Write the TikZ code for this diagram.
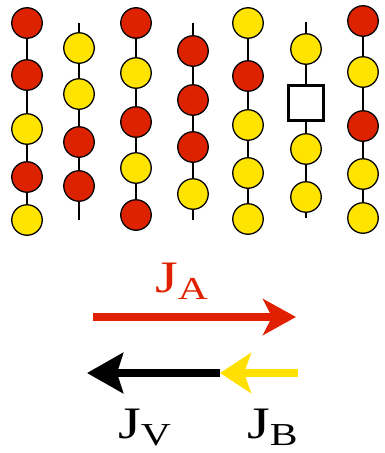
\documentclass[tikz,border=0pt]{standalone}
\usepackage{fontspec}
\setmainfont{Liberation Serif}
\usetikzlibrary{arrows.meta}
\definecolor{beadred}{HTML}{DD2200}
\definecolor{beadyellow}{HTML}{FFE400}
\definecolor{arrowred}{HTML}{E02000}
\definecolor{arrowyellow}{HTML}{FFE000}
\newcommand{\bigJ}[1]{\scalebox{1.3}[1]{\fontsize{45}{45}\selectfont J\raisebox{-7pt}{\fontsize{32}{32}\selectfont #1}}}
\tikzset{
  bead/.style={circle, draw=black, line width=1.3pt, minimum size=30.5pt, inner sep=0pt},
  rb/.style={bead, fill=beadred},
  yb/.style={bead, fill=beadyellow},
  vac/.style={rectangle, draw=black, line width=2.5pt, fill=white, minimum size=35pt, inner sep=0pt},
  rod/.style={line width=1.3pt, black},
  lab/.style={anchor=base west, inner sep=0pt},
}
\begin{document}
\begin{tikzpicture}[x=1pt,y=-1pt]
\useasboundingbox (0,0) rectangle (385,453);
% column 1
\node[rb] (a1) at (27,23) {};
\node[rb] (a2) at (27,75) {};
\node[yb] (a3) at (27,129) {};
\node[rb] (a4) at (27,177) {};
\node[yb] (a5) at (27,220) {};
\draw[rod] (a1)--(a2) (a2)--(a3) (a3)--(a4) (a4)--(a5);
% column 2
\coordinate (b0) at (79,23);
\node[yb] (b1) at (79,48) {};
\node[yb] (b2) at (79,94) {};
\node[rb] (b3) at (79,142) {};
\node[rb] (b4) at (79,186) {};
\coordinate (b5) at (79,220);
\draw[rod] (b0)--(b1) (b1)--(b2) (b2)--(b3) (b3)--(b4) (b4)--(b5);
% column 3
\node[rb] (c1) at (136,23) {};
\node[yb] (c2) at (136,73) {};
\node[rb] (c3) at (136,122) {};
\node[yb] (c4) at (136,168) {};
\node[rb] (c5) at (136,215) {};
\draw[rod] (c1)--(c2) (c2)--(c3) (c3)--(c4) (c4)--(c5);
% column 4
\coordinate (d0) at (193,23);
\node[rb] (d1) at (193,51) {};
\node[rb] (d2) at (193,100) {};
\node[rb] (d3) at (193,147) {};
\node[yb] (d4) at (193,194) {};
\coordinate (d5) at (193,220);
\draw[rod] (d0)--(d1) (d1)--(d2) (d2)--(d3) (d3)--(d4) (d4)--(d5);
% column 5
\node[yb] (e1) at (248,23) {};
\node[rb] (e2) at (248,76) {};
\node[yb] (e3) at (248,125) {};
\node[yb] (e4) at (248,173) {};
\node[yb] (e5) at (248,219) {};
\draw[rod] (e1)--(e2) (e2)--(e3) (e3)--(e4) (e4)--(e5);
% column 6
\coordinate (f0) at (306,22);
\node[yb] (f1) at (306,49) {};
\node[vac] (f2) at (306,103) {};
\node[yb] (f3) at (306,149) {};
\node[yb] (f4) at (306,197) {};
\coordinate (f5) at (306,218);
\draw[rod] (f0)--(f1) (f1)--(f2) (f2)--(f3) (f3)--(f4) (f4)--(f5);
% column 7
\node[rb] (g1) at (363,21) {};
\node[yb] (g2) at (363,72) {};
\node[rb] (g3) at (363,126) {};
\node[yb] (g4) at (363,174) {};
\node[yb] (g5) at (363,218) {};
\draw[rod] (g1)--(g2) (g2)--(g3) (g3)--(g4) (g4)--(g5);
% fluxes
\coordinate (ra) at (93,317);
\coordinate (rb) at (296,317);
\draw[arrowred, line width=8pt, -{Stealth[length=33pt, width=36pt, inset=9pt]}] (ra) -- (rb);
\coordinate (yb0) at (298,373);
\coordinate (mid) at (220,373);
\coordinate (vt) at (87,373);
\draw[black, line width=8pt, -{Stealth[length=36pt, width=40pt, inset=6pt]}] (mid) -- (vt);
\draw[arrowyellow, line width=8pt, -{Stealth[length=31pt, width=40pt, inset=7pt]}] (yb0) -- (mid);
\node[lab, text=arrowred] (ja) at (155,292) {\bigJ{A}};
\node[lab] (jv) at (118,438) {\bigJ{V}};
\node[lab] (jb) at (247,438) {\bigJ{B}};
\end{tikzpicture}
\end{document}
